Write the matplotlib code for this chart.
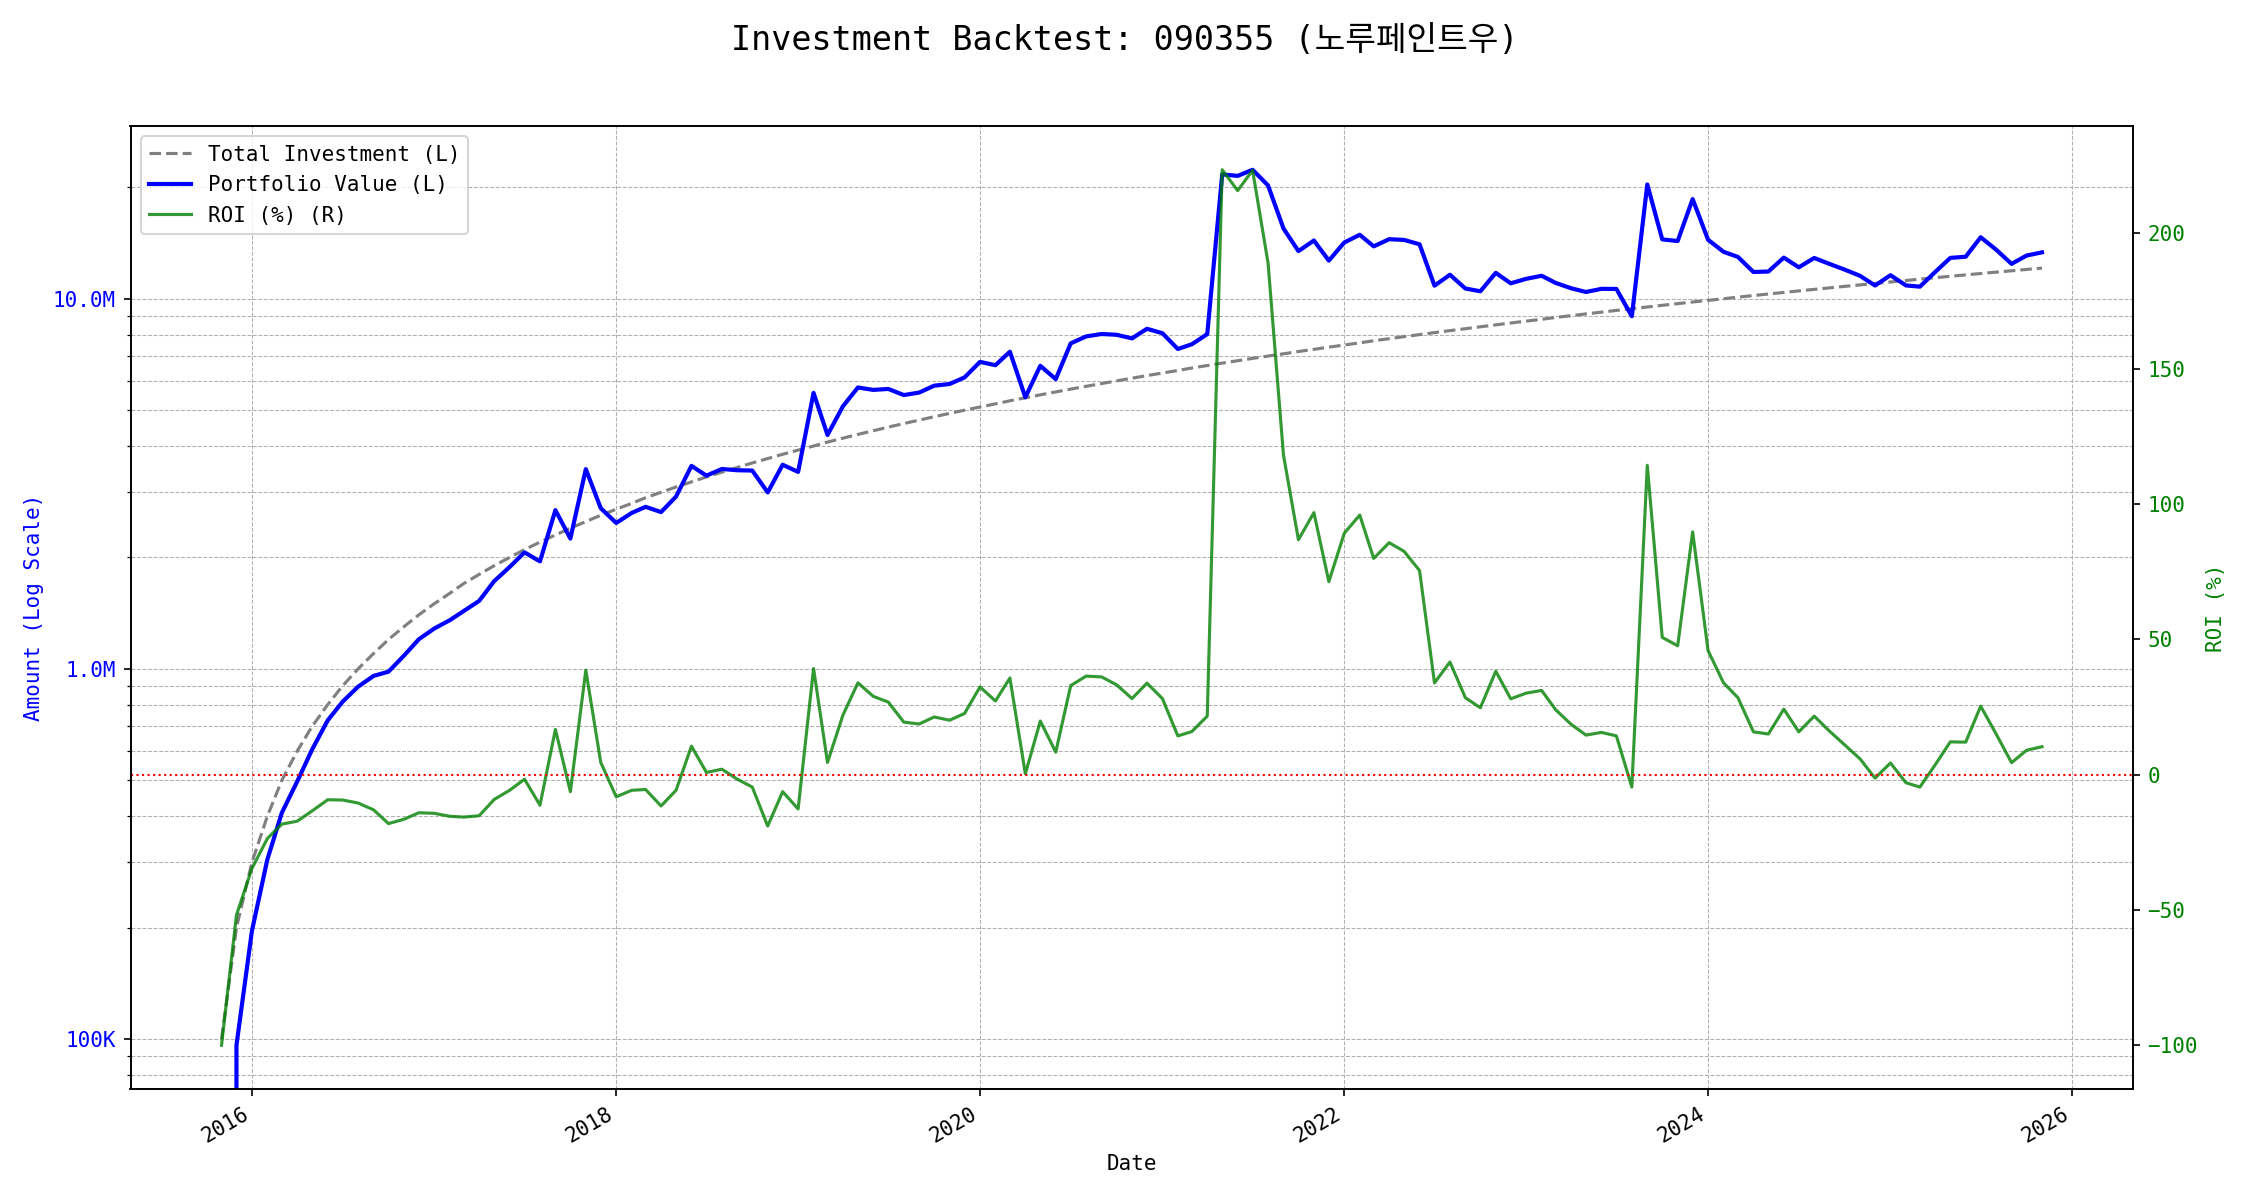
import matplotlib
matplotlib.use('Agg')
import matplotlib.pyplot as plt
import matplotlib.dates as mdates
import matplotlib.ticker as mticker
import numpy as np
import pandas as pd

plt.rcParams['font.family'] = ['DejaVu Sans Mono', 'Noto Sans CJK KR']

# monthly buys, 100K each, Nov 2015 .. Nov 2025
dates = pd.date_range('2015-11-01', periods=121, freq='MS')
monthly_amount = 100_000

# ROI (%), one value per month
roi = [
    -100.0, -51.9, -34.7, -23.6, -18.3, -17.2, -13.4, -9.3, -9.4, -10.5,
    -13.0, -18.1, -16.5, -14.1, -14.3, -15.4, -15.7, -15.2, -9.2, -5.8,
    -1.7, -11.3, 16.7, -6.3, 38.6, 4.5, -8.2, -5.8, -5.5, -11.6,
    -5.8, 10.5, 0.8, 2.0, -1.7, -4.6, -19.0, -6.3, -12.7, 39.2,
    4.5, 22.0, 33.9, 28.9, 26.8, 19.4, 18.7, 21.3, 20.1, 22.6,
    32.4, 27.2, 35.7, 0.3, 19.8, 8.3, 32.9, 36.4, 36.1, 33.2,
    28.1, 33.8, 28.1, 14.3, 15.9, 21.6, 223.5, 215.8, 223.3, 189.1,
    118.0, 86.8, 96.8, 71.3, 89.2, 95.9, 79.9, 85.7, 82.5, 75.4,
    33.9, 41.6, 28.4, 24.7, 38.2, 28.0, 30.1, 31.1, 24.0, 18.6,
    14.6, 15.6, 14.3, -4.6, 114.3, 50.7, 47.6, 89.7, 45.8, 33.9,
    28.4, 15.8, 15.0, 24.2, 15.8, 21.6, 16.0, 11.0, 5.8, -1.3,
    4.3, -3.0, -4.6, 3.7, 12.1, 12.0, 25.3, 15.0, 4.4, 9.0,
    10.3,
]

roi = np.array(roi)
total_investment = monthly_amount * np.arange(1, len(dates) + 1)
portfolio_value = total_investment * (1 + roi / 100)


def fmt_amount(x, pos):
    if x >= 1e6:
        return f'{x / 1e6:.1f}M'
    if x >= 1e3:
        return f'{x / 1e3:.0f}K'
    return f'{x:.0f}'


fig, ax1 = plt.subplots(figsize=(15, 8), dpi=150)

l1, = ax1.plot(dates, total_investment, color='gray', linestyle='--', linewidth=1.5,
               label='Total Investment (L)')
l2, = ax1.plot(dates, portfolio_value, color='blue', linewidth=2,
               label='Portfolio Value (L)')
ax1.set_yscale('log')
ax1.yaxis.set_major_formatter(mticker.FuncFormatter(fmt_amount))
ax1.yaxis.set_minor_formatter(mticker.NullFormatter())
ax1.set_ylabel('Amount (Log Scale)', color='blue')
ax1.tick_params(axis='y', labelcolor='blue')
ax1.set_xlabel('Date')
ax1.grid(True, which='both', linestyle='--', linewidth=0.5)

ax2 = ax1.twinx()
l3, = ax2.plot(dates, roi, color='green', alpha=0.8, linewidth=1.5, label='ROI (%) (R)')
ax2.axhline(0, color='red', linestyle=':', linewidth=1)
ax2.set_ylabel('ROI (%)', color='green')
ax2.tick_params(axis='y', labelcolor='green')

ax1.xaxis.set_major_locator(mdates.YearLocator(2))
ax1.xaxis.set_major_formatter(mdates.DateFormatter('%Y'))
for lab in ax1.get_xticklabels():
    lab.set_rotation(30)
    lab.set_ha('right')

ax1.legend(handles=[l1, l2, l3], loc='upper left')

fig.suptitle('Investment Backtest: 090355 (노루페인트우)', fontsize=16)
fig.subplots_adjust(left=0.058, right=0.948, top=0.895, bottom=0.0925)
fig.savefig('out.png', dpi=150)
